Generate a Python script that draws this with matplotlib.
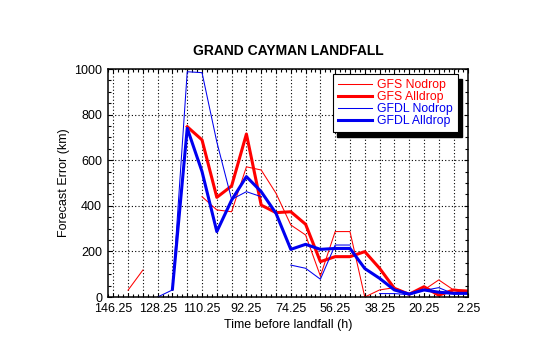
import numpy as np
import matplotlib
matplotlib.use("Agg")
import matplotlib.pyplot as plt
from matplotlib.patches import Rectangle

plt.rcParams["font.family"] = ["Liberation Sans", "DejaVu Sans"]

nan = np.nan

# forecast lead time (h before landfall), one point every 6 h
hours = [146.25, 140.25, 134.25, 128.25, 122.25, 116.25, 110.25, 104.25,
         98.25, 92.25, 86.25, 80.25, 74.25, 68.25, 62.25, 56.25, 50.25,
         44.25, 38.25, 32.25, 26.25, 20.25, 14.25, 8.25, 2.25]

# track error (km); nan = no forecast available
gfs_nodrop = [nan, 30, 118, nan, nan, nan, 440, 382, 374, 571, 557, 455, 316,
              272, 92, 287, 287, 0, 31, 41, 13, 31, 75, 31, 31]
gfs_alldrop = [nan, nan, nan, nan, nan, 747, 689, 437, 487, 715, 403, 370, 374,
               319, 155, 177, 177, 199, 126, 38, 12, 45, 8, 31, 23]
gfdl_nodrop = [nan, nan, nan, 0, 31, 988, 984, 680, 428, 462, 440, nan, 140,
               126, 78, 228, 228, nan, 15, 15, 10, 29, 41, 14, 15]
gfdl_alldrop = [nan, nan, nan, nan, 35, 740, 550, 287, 425, 528, 462, 367, 209,
                231, 209, 213, 213, 125, 82, 31, 13, 31, 21, 16, 16]

RED = "#ff0000"
BLUE = "#0000f0"

fig = plt.figure(figsize=(5.4, 3.44), dpi=100)
ax = fig.add_axes([0.2006, 0.1366, 0.6667, 0.6628])

ax.plot(hours, gfs_nodrop, color=RED, lw=0.75, label="GFS Nodrop")
ax.plot(hours, gfs_alldrop, color=RED, lw=2.2, label="GFS Alldrop")
ax.plot(hours, gfdl_nodrop, color=BLUE, lw=0.75, label="GFDL Nodrop")
ax.plot(hours, gfdl_alldrop, color=BLUE, lw=2.2, label="GFDL Alldrop")

ax.set_xlim(148.25, 2.25)
ax.set_ylim(0, 1000)

# grid every 6 h, labels every 18 h, small ticks every 2 h
ax.set_xticks(hours)
ax.set_xticklabels([f"{h:g}" if i % 3 == 0 else "" for i, h in enumerate(hours)])
ax.set_xticks(np.arange(2.25, 148.3, 2.0), minor=True)
ax.set_yticks(np.arange(0, 1001, 200))
ax.set_yticks(np.arange(0, 1001, 50), minor=True)

ax.tick_params(which="both", direction="in", top=True, right=True,
               color="black", labelsize=9, width=0.8)
ax.tick_params(which="major", length=3.2, pad=4.5)
ax.tick_params(which="minor", length=2.2)
ax.grid(True, which="major", color="black", linestyle=(0, (1, 2)), lw=0.8)
for s in ax.spines.values():
    s.set_linewidth(1.1)

ax.set_title("GRAND CAYMAN LANDFALL", fontsize=10, fontweight="bold", pad=10)
ax.set_xlabel("Time before landfall (h)", fontsize=9, labelpad=2.5)
ax.set_ylabel("Forecast Error (km)", fontsize=9, labelpad=3)

leg = ax.legend(loc="upper left", bbox_to_anchor=(332.7 / 540, 1 - 74.3 / 344),
                bbox_transform=fig.transFigure, borderaxespad=0,
                fontsize=8.8, labelcolor="linecolor", fancybox=False,
                framealpha=1, edgecolor="black", handlelength=2.85,
                handletextpad=0.4, labelspacing=0.0, borderpad=0.4)
leg.get_frame().set_linewidth(0.8)

# solid black drop shadow behind the legend box
fig.canvas.draw()
bb = leg.get_window_extent()
off = 4.5
sb = bb.translated(off, -off).transformed(ax.transAxes.inverted())
ax.add_patch(Rectangle((sb.x0, sb.y0), sb.width, sb.height, transform=ax.transAxes,
                       facecolor="black", edgecolor="black", zorder=4.9,
                       clip_on=False))

fig.savefig("out.png", dpi=100)
